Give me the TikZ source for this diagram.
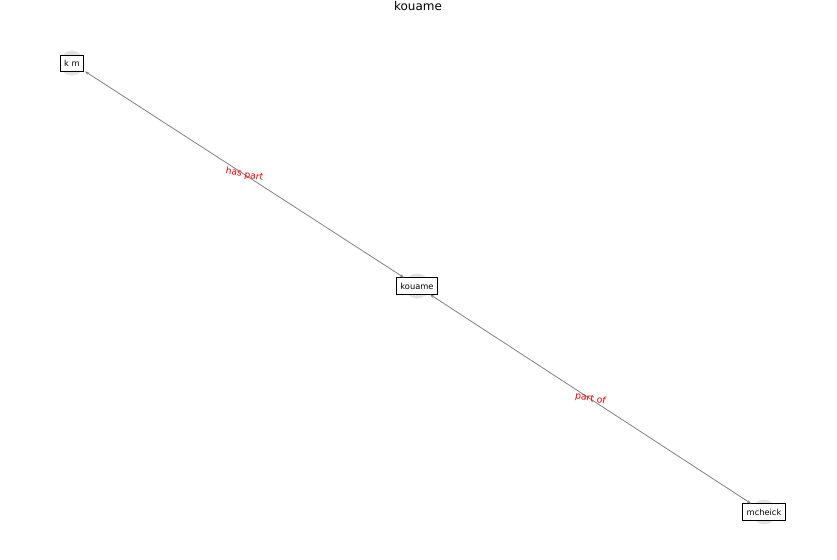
\documentclass[tikz,border=0pt]{standalone}
\usepackage{fontspec}
\setmainfont{DejaVu Sans}
\usetikzlibrary{arrows.meta,calc}
\tikzset{
  alone/.style={circle, fill=gray!22, minimum size=25pt, inner sep=0pt, outer sep=3pt},
  etichetta/.style={draw=black, fill=white, font=\fontsize{8.3}{10}\selectfont, inner xsep=4pt, inner ysep=5pt, line width=0.6pt},
  arco/.style={draw=gray, line width=0.8pt, {Stealth[length=4pt,width=3pt]}-{Stealth[length=4pt,width=3pt]}},
  relazione/.style={text=red!90!black, font=\fontsize{9.2}{11}\selectfont, rotate=-11, inner sep=1pt}
}
\begin{document}
\begin{tikzpicture}[x=1pt,y=-1pt]
        % Cornice
        \useasboundingbox (0,0) rectangle (837,559);

        % Titolo
        \node (titolo) at (418,6) {\fontsize{12}{14}\selectfont kouame};

        % Aloni dei nodi
        \node[alone] (km) at (72,63) {};
        \node[alone] (kouame) at (417,286) {};
        \node[alone] (mcheick) at (764,512) {};

        % Riquadri dei nodi
        \node[etichetta] (kmbox) at (km) {k m};
        \node[etichetta] (kouamebox) at (kouame) {kouame};
        \node[etichetta] (mcheickbox) at (mcheick) {mcheick};

        % Archi
        \draw[arco] (kouame) -- (km);
        \draw[arco] (kouame) -- (mcheick);

        % Etichette degli archi
        \node[relazione] (haspart) at ($(km)!0.5!(kouame)$) {has part};
        \node[relazione] (partof) at ($(kouame)!0.5!(mcheick)$) {part of};
\end{tikzpicture}
\end{document}
